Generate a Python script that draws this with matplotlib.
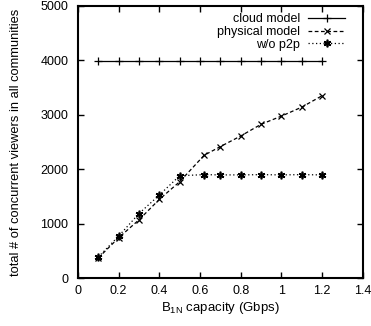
import matplotlib
matplotlib.use("Agg")
import matplotlib.pyplot as plt

plt.rcParams['font.family'] = ['Liberation Sans', 'DejaVu Sans']
plt.rcParams['mathtext.fontset'] = 'custom'
plt.rcParams['mathtext.rm'] = 'Liberation Sans'

# data
cloud_x = [0.1, 0.2, 0.3, 0.4, 0.5, 0.6, 0.7, 0.8, 0.9, 1.0, 1.1, 1.2]
cloud_y = [3990] * 12

phys_x = [0.1, 0.2, 0.3, 0.4, 0.5, 0.62, 0.7, 0.8, 0.9, 1.0, 1.1, 1.2]
phys_y = [370, 740, 1070, 1445, 1770, 2255, 2415, 2610, 2825, 2975, 3140, 3350]

nop2p_x = [0.1, 0.2, 0.3, 0.4, 0.5, 0.62, 0.7, 0.8, 0.9, 1.0, 1.1, 1.2]
nop2p_y = [385, 770, 1185, 1525, 1880, 1900, 1895, 1895, 1900, 1895, 1900, 1895]

fig = plt.figure(figsize=(3.71, 3.26), dpi=100)
ax = fig.add_axes([0.210, 0.147, 0.768, 0.835])

ax.plot(cloud_x, cloud_y, color='black', lw=0.9, ls='-', marker='+',
        ms=5.5, mew=0.9, label='cloud model')
ax.plot(phys_x, phys_y, color='black', lw=0.9, ls=(0, (3, 2)), marker='x',
        ms=5, mew=0.9, label='physical model')
ax.plot(nop2p_x, nop2p_y, color='black', lw=0.9, ls=(0, (1, 2)), marker=(6, 2, 0),
        ms=5.5, mew=1.2, label='w/o p2p')

ax.set_xlim(0, 1.4)
ax.set_ylim(0, 5000)
ax.set_xticks([0, 0.2, 0.4, 0.6, 0.8, 1, 1.2, 1.4])
ax.set_xticklabels(['0', '0.2', '0.4', '0.6', '0.8', '1', '1.2', '1.4'])
ax.set_yticks([0, 1000, 2000, 3000, 4000, 5000])
ax.tick_params(direction='in', top=True, right=True, length=4, width=1,
               labelsize=9)
ax.tick_params(axis='y', pad=7)
ax.tick_params(axis='x', pad=5)
for s in ax.spines.values():
    s.set_linewidth(1.5)

ax.set_xlabel('B$_{\\mathrm{1N}}$ capacity (Gbps)', fontsize=9.5, labelpad=2)
ax.set_ylabel('total # of concurrent viewers in all communities', fontsize=9.3, labelpad=13)

leg = ax.legend(loc='upper right', frameon=False, markerfirst=False, fontsize=9,
                handlelength=3.0, handletextpad=0.6, labelspacing=0.05,
                borderaxespad=0.2, bbox_to_anchor=(0.965, 1.0))

fig.savefig('out.png', dpi=100)
